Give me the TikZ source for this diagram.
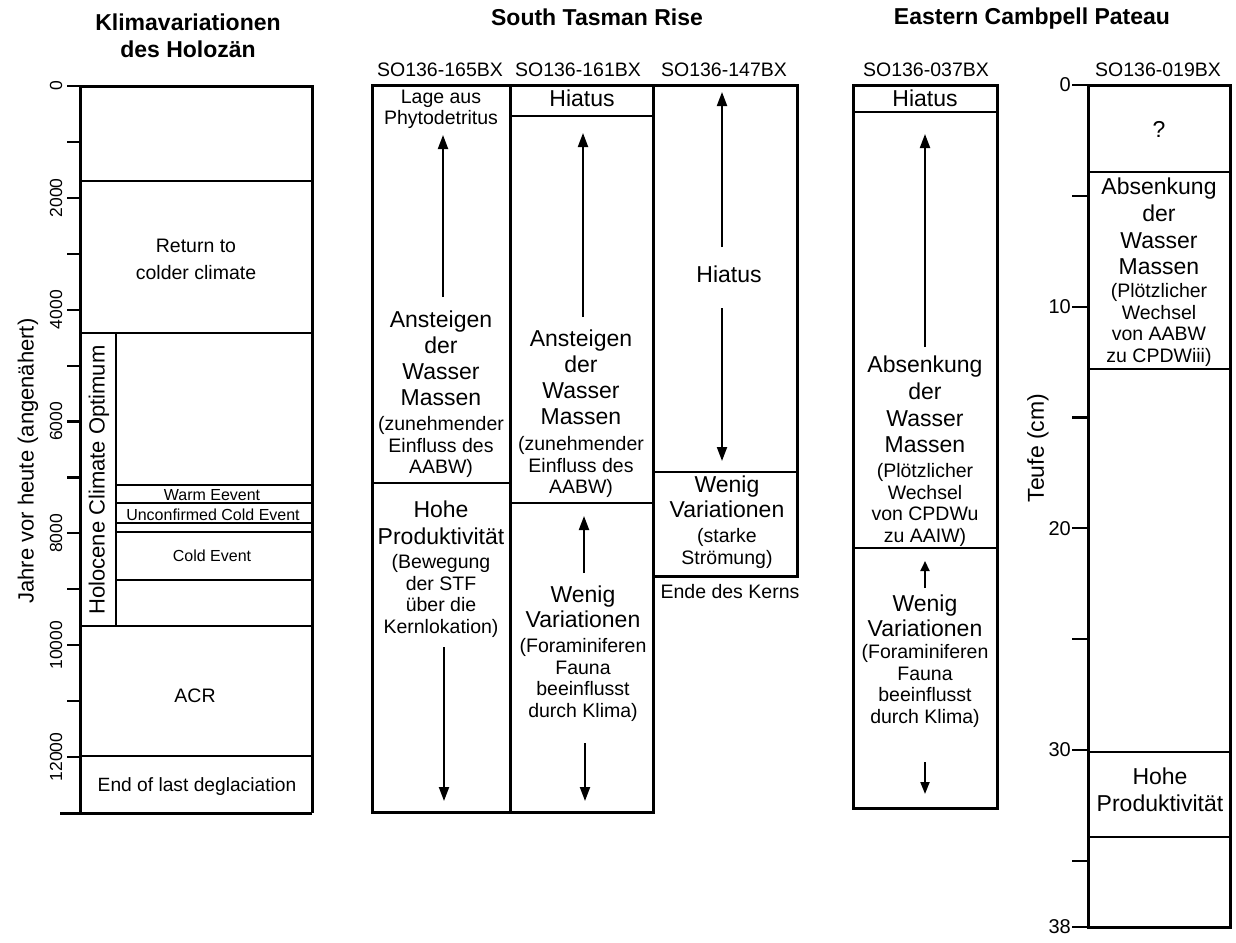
\documentclass[tikz,border=0pt]{standalone}
\usepackage{fontspec}
\setmainfont{Liberation Sans}
\usetikzlibrary{arrows.meta}
\begin{document}
\begin{tikzpicture}[x=1pt,y=-1pt,
  outer/.style={line width=3pt},
  inner/.style={line width=2.2pt},
  thinl/.style={line width=1.1pt},
  arr/.style={line width=2pt,-{Triangle[length=14pt,width=10pt]}},
  big/.style={font=\fontsize{23}{26.5}\selectfont,align=center,inner sep=0pt,anchor=north},
  sml/.style={font=\fontsize{19.5}{21.7}\selectfont,align=center,inner sep=0pt,anchor=north},
  ev/.style={font=\fontsize{16}{18}\selectfont,inner sep=0pt,anchor=base},
  title/.style={font=\fontsize{23}{27}\selectfont\bfseries,align=center,inner sep=0pt,anchor=base},
  core/.style={font=\fontsize{19.5}{22}\selectfont,inner sep=0pt,anchor=base},
  ltick/.style={font=\fontsize{17.5}{20}\selectfont,inner sep=0pt,rotate=90},
  rtick/.style={font=\fontsize{20}{22}\selectfont,inner sep=0pt,anchor=east},
  axl/.style={font=\fontsize{22}{26}\selectfont,inner sep=0pt,rotate=90}
]
\useasboundingbox (0,0) rectangle (1236,942);

% ---------- titles ----------
\node[title,anchor=north] (t1) at (188,13.5) {Klimavariationen\\des Holozän};
\node[title] (t2) at (597,26) {South Tasman Rise};
\node[title] (t3) at (1032,25) {Eastern Cambpell Pateau};

% ---------- left column ----------
\draw[outer] (80,86) -- (312,86) -- (312,813);
\draw[outer] (80,86) -- (80,813);
\draw[outer] (60,813) -- (312,813);
\draw[inner] (80,181) -- (312,181);
\draw[inner] (80,333) -- (312,333);
\draw[inner] (80,626) -- (312,626);
\draw[inner] (80,756) -- (312,756);
\draw[inner] (116,333) -- (116,626);
\draw[thinl] (116,485) -- (312,485);
\draw[thinl] (116,503) -- (312,503);
\draw[thinl] (116,523) -- (312,523);
\draw[thinl] (116,532) -- (312,532);
\draw[line width=1.6pt] (116,580) -- (312,580);
\foreach \k in {0,...,12} \draw[inner] (67,{86+55.92*\k}) -- (80,{86+55.92*\k});
\foreach \k/\t in {0/0,2/2000,4/4000,6/6000,8/8000,10/10000,12/12000}
  \node[ltick] (lt\k) at (56,{86+55.92*\k}) {\t};
\node[axl] (yl) at (28,461) {Jahre vor heute (angenähert)};

\node[sml,font=\fontsize{19.5}{27}\selectfont] (ret) at (196,239) {Return to\\colder climate};
\node[axl] (hco) at (99,480) {Holocene Climate Optimum};
\node[ev] (warm) at (212,500) {Warm Eevent};
\node[ev] (unc) at (213,520.5) {Unconfirmed Cold Event};
\node[ev] (cold) at (212,561.5) {Cold Event};
\node[core] (acr) at (195,702) {ACR};
\node[core,font=\fontsize{19.2}{22}\selectfont] (endg) at (197,791) {End of last deglaciation};

% ---------- South Tasman Rise ----------
\node[core] (c165) at (440,77) {SO136-165BX};
\node[core] (c161) at (578,77) {SO136-161BX};
\node[core] (c147) at (724,77) {SO136-147BX};

\draw[outer] (372,85) rectangle (653,812);
\draw[outer] (510,85) -- (510,812);
\draw[outer] (653,85) -- (797,85) -- (797,576) -- (653,576);

% 165BX
\node[sml,font=\fontsize{19.5}{21}\selectfont] (lage) at (441,90) {Lage aus\\Phytodetritus};
\coordinate (a1s) at (443,297); \coordinate (a1e) at (443,135);
\draw[arr] (a1s) -- (a1e);
\node[big,font=\fontsize{23}{25.8}\selectfont] (ans1) at (441,311) {Ansteigen\\der\\Wasser\\Massen};
\node[sml] (zu1) at (441,416) {(zunehmender\\Einfluss des\\AABW)};
\draw[inner] (372,483) -- (510,483);
\node[big,font=\fontsize{23}{27}\selectfont] (hoh1) at (441,501) {Hohe\\Produktivität};
\node[sml] (bew) at (441,554) {(Bewegung\\der STF\\über die\\Kernlokation)};
\coordinate (a2s) at (444,647); \coordinate (a2e) at (444,801);
\draw[arr] (a2s) -- (a2e);

% 161BX
\node[big] (hi161) at (582,90) {Hiatus};
\draw[inner] (510,116) -- (653,116);
\coordinate (a3s) at (583,317); \coordinate (a3e) at (583,133);
\draw[arr] (a3s) -- (a3e);
\node[big,font=\fontsize{23}{25.8}\selectfont] (ans2) at (581,330) {Ansteigen\\der\\Wasser\\Massen};
\node[sml] (zu2) at (581,436) {(zunehmender\\Einfluss des\\AABW)};
\draw[inner] (510,503) -- (653,503);
\coordinate (a4s) at (584,573); \coordinate (a4e) at (584,516);
\draw[arr] (a4s) -- (a4e);
\node[big,font=\fontsize{23}{25}\selectfont] (wen2) at (583,586) {Wenig\\Variationen};
\node[sml] (for2) at (583,638) {(Foraminiferen\\Fauna\\beeinflusst\\durch Klima)};
\coordinate (a5s) at (585,743); \coordinate (a5e) at (585,801);
\draw[arr] (a5s) -- (a5e);

% 147BX
\coordinate (a6s) at (722,247); \coordinate (a6e) at (722,92);
\draw[arr] (a6s) -- (a6e);
\node[big] (hi147) at (729,266) {Hiatus};
\coordinate (a7s) at (722,308); \coordinate (a7e) at (722,461);
\draw[arr] (a7s) -- (a7e);
\draw[inner] (653,472) -- (797,472);
\node[big,font=\fontsize{23}{25}\selectfont] (wen3) at (727,476) {Wenig\\Variationen};
\node[sml] (sta) at (727,528) {(starke\\Strömung)};
\node[core] (ende) at (730,598) {Ende des Kerns};

% ---------- Eastern Campbell Plateau ----------
\node[core] (c037) at (926,77) {SO136-037BX};
\node[core] (c019) at (1158,77) {SO136-019BX};

% 037BX
\draw[outer] (853,85) rectangle (997,808);
\node[big] (hi037) at (925,90) {Hiatus};
\draw[inner] (853,112) -- (997,112);
\coordinate (b1s) at (925,347); \coordinate (b1e) at (925,134);
\draw[arr] (b1s) -- (b1e);
\node[big,font=\fontsize{23}{26.7}\selectfont] (abs1) at (925,356) {Absenkung\\der\\Wasser\\Massen};
\node[sml] (pl1) at (925,463) {(Plötzlicher\\Wechsel\\von CPDWu\\zu AAIW)};
\draw[inner] (853,548) -- (997,548);
\coordinate (b2s) at (925,588); \coordinate (b2e) at (925,561);
\draw[line width=2pt,-{Triangle[length=10pt,width=9pt]}] (b2s) -- (b2e);
\node[big,font=\fontsize{23}{25}\selectfont] (wen4) at (925,595) {Wenig\\Variationen};
\node[sml] (for4) at (925,644) {(Foraminiferen\\Fauna\\beeinflusst\\durch Klima)};
\coordinate (b3s) at (925,762); \coordinate (b3e) at (925,794);
\draw[line width=2pt,-{Triangle[length=12pt,width=9pt]}] (b3s) -- (b3e);

% 019BX
\draw[outer] (1088,85) rectangle (1230,927);
\node[big,anchor=base] (q) at (1159,137) {?};
\draw[inner] (1088,172) -- (1230,172);
\node[big,font=\fontsize{23}{26.7}\selectfont] (abs2) at (1159,178) {Absenkung\\der\\Wasser\\Massen};
\node[sml] (pl2) at (1159,283) {(Plötzlicher\\Wechsel\\von AABW\\zu CPDWiii)};
\draw[inner] (1088,369) -- (1230,369);
\draw[inner] (1088,752) -- (1230,752);
\node[big,font=\fontsize{23}{27}\selectfont] (hoh2) at (1160,768) {Hohe\\Produktivität};
\draw[inner] (1088,837) -- (1230,837);
\foreach \d in {0,5,...,35,38} \draw[inner] (1072,{85+22.16*\d}) -- (1088,{85+22.16*\d});
\foreach \d in {0,10,20,30,38}
  \node[rtick] (rt\d) at (1071,{85+22.16*\d}) {\d};
\node[axl,font=\fontsize{23}{26}\selectfont] (zl) at (1038,448) {Teufe (cm)};
\end{tikzpicture}
\end{document}
